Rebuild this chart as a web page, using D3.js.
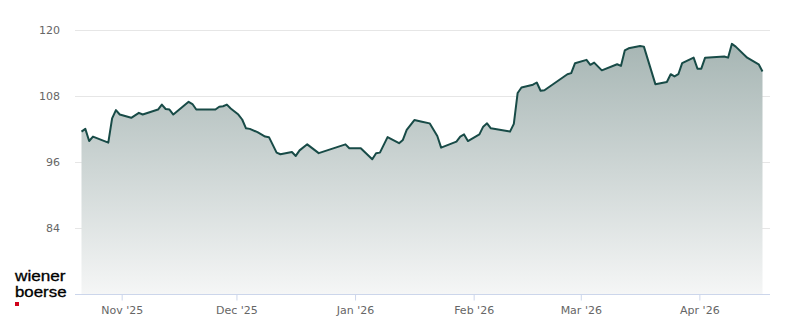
<!DOCTYPE html>
<html>
<head>
<meta charset="utf-8">
<script src="https://cdn.jsdelivr.net/npm/d3@7"></script>
<style>
  html, body { margin: 0; padding: 0; background: #fff; }
  svg { display: block; }
</style>
</head>
<body>
<div id="chart"></div>
<script>
// price series, one entry per vertex
const dates = [
  "2025-10-21", "2025-10-22", "2025-10-23", "2025-10-24", "2025-10-28", "2025-10-29", "2025-10-30", "2025-10-31",
  "2025-11-03", "2025-11-05", "2025-11-06", "2025-11-10", "2025-11-11", "2025-11-12", "2025-11-13", "2025-11-14",
  "2025-11-18", "2025-11-19", "2025-11-20", "2025-11-25", "2025-11-26", "2025-11-27", "2025-11-28", "2025-11-29",
  "2025-12-01", "2025-12-02", "2025-12-03", "2025-12-04", "2025-12-06", "2025-12-08", "2025-12-09", "2025-12-10",
  "2025-12-11", "2025-12-12", "2025-12-15", "2025-12-16", "2025-12-17", "2025-12-19", "2025-12-22", "2025-12-29",
  "2025-12-30", "2026-01-02", "2026-01-05", "2026-01-06", "2026-01-07", "2026-01-09", "2026-01-12", "2026-01-13",
  "2026-01-14", "2026-01-16", "2026-01-18", "2026-01-20", "2026-01-22", "2026-01-23", "2026-01-27", "2026-01-28",
  "2026-01-29", "2026-01-30", "2026-02-02", "2026-02-03", "2026-02-04", "2026-02-05", "2026-02-10", "2026-02-11",
  "2026-02-12", "2026-02-13", "2026-02-16", "2026-02-17", "2026-02-18", "2026-02-19", "2026-02-25", "2026-02-26",
  "2026-02-27", "2026-03-02", "2026-03-03", "2026-03-04", "2026-03-06", "2026-03-10", "2026-03-11", "2026-03-12",
  "2026-03-13", "2026-03-16", "2026-03-17", "2026-03-20", "2026-03-23", "2026-03-24", "2026-03-25", "2026-03-26",
  "2026-03-27", "2026-03-30", "2026-03-31", "2026-04-01", "2026-04-02", "2026-04-07", "2026-04-08", "2026-04-09",
  "2026-04-10", "2026-04-13", "2026-04-16", "2026-04-17"
];
const prices = [
  101.5, 102.0, 99.8, 100.6, 99.5, 103.9, 105.4, 104.6,
  104.0, 104.9, 104.6, 105.5, 106.4, 105.6, 105.5, 104.6,
  106.9, 106.5, 105.5, 105.5, 106.0, 106.1, 106.4, 105.7,
  104.6, 103.7, 102.1, 102.0, 101.4, 100.6, 100.5, 99.1,
  97.7, 97.4, 97.8, 97.1, 98.1, 99.2, 97.6, 99.2,
  98.5, 98.5, 96.5, 97.6, 97.7, 100.5, 99.4, 100.0,
  101.8, 103.6, 103.3, 103.0, 100.7, 98.6, 99.7, 100.6,
  101.0, 99.8, 101.0, 102.4, 103.0, 102.1, 101.5, 102.9,
  108.5, 109.5, 110.0, 110.4, 108.9, 109.0, 111.9, 112.1,
  113.9, 114.5, 113.6, 114.0, 112.6, 113.7, 113.4, 116.2,
  116.6, 117.0, 116.9, 110.1, 110.5, 111.9, 111.5, 111.9,
  113.9, 114.9, 112.9, 112.9, 114.9, 115.1, 114.9, 117.4,
  116.9, 114.9, 113.7, 112.4
];
const yTicks = [84, 96, 108, 120];
const yDomain = [72, 120];
const logoLines = ['wiener', 'boerse'];

const width = 800, height = 324;
const plot = { left: 81.5, right: 762.5, top: 29.5, bottom: 294.5 };
const gridLeft = 75, gridRight = 770;

// close prices are stamped at midday
const data = dates.map((d, i) => ({ date: new Date(d + "T12:00:00"), value: prices[i] }));

const svg = d3.select('#chart')
  .append('svg')
  .attr('width', width)
  .attr('height', height);

const x = d3.scaleTime()
  .domain(d3.extent(data, d => d.date))
  .range([plot.left, plot.right]);

const y = d3.scaleLinear()
  .domain(yDomain)
  .range([plot.bottom, plot.top]);

// gradient under the line
const grad = svg.append('defs').append('linearGradient')
  .attr('id', 'areaFill')
  .attr('gradientUnits', 'userSpaceOnUse')
  .attr('x1', 0).attr('x2', 0)
  .attr('y1', plot.top).attr('y2', plot.bottom);
grad.append('stop').attr('offset', '0%').attr('stop-color', '#a2b2b0');
grad.append('stop').attr('offset', '100%').attr('stop-color', '#f5f6f6');

// horizontal grid
svg.append('g')
  .selectAll('line')
  .data(yTicks)
  .enter().append('line')
  .attr('x1', gridLeft)
  .attr('x2', gridRight)
  .attr('y1', d => Math.round(y(d)) + 0.5)
  .attr('y2', d => Math.round(y(d)) + 0.5)
  .attr('stroke', '#e6e6e6')
  .attr('stroke-width', 1);

// y labels
svg.append('g')
  .selectAll('text')
  .data(yTicks)
  .enter().append('text')
  .attr('x', 60)
  .attr('y', d => y(d) + 4)
  .attr('text-anchor', 'end')
  .style('font-family', '"DejaVu Sans", sans-serif')
  .style('font-size', '11px')
  .style('fill', '#666666')
  .text(d => d);

const area = d3.area()
  .x(d => x(d.date))
  .y0(plot.bottom)
  .y1(d => y(d.value));

const line = d3.line()
  .x(d => x(d.date))
  .y(d => y(d.value));

svg.append('path')
  .datum(data)
  .attr('d', area)
  .attr('fill', 'url(#areaFill)');

svg.append('path')
  .datum(data)
  .attr('d', line)
  .attr('fill', 'none')
  .attr('stroke', '#184b47')
  .attr('stroke-width', 2)
  .attr('stroke-linejoin', 'round');

// x axis
const xAxis = d3.axisBottom(x)
  .ticks(d3.timeMonth.every(1))
  .tickFormat(d3.timeFormat("%b '%y"))
  .tickSizeOuter(0)
  .tickSizeInner(6)
  .tickPadding(6);

const gx = svg.append('g')
  .attr('transform', `translate(0,${plot.bottom})`)
  .call(xAxis);

gx.select('.domain').remove();
gx.insert('line', ':first-child')
  .attr('x1', gridLeft)
  .attr('x2', gridRight)
  .attr('stroke', '#ccd6eb');
gx.selectAll('.tick line').attr('stroke', '#ccd6eb');
gx.selectAll('.tick text')
  .style('font-family', '"DejaVu Sans", sans-serif')
  .style('font-size', '11px')
  .style('fill', '#666666');

// logo - two stacked words, stretched to the wordmark width
const logo = svg.append('g');
logo.selectAll('text')
  .data(logoLines)
  .enter().append('text')
  .attr('x', 15)
  .attr('y', (d, i) => 281 + i * 15.7)
  .attr('textLength', (d, i) => i === 0 ? 50.5 : 51.5)
  .attr('lengthAdjust', 'spacingAndGlyphs')
  .style('font-family', '"Liberation Sans", Arial, sans-serif')
  .style('font-size', '14px')
  .style('fill', '#000')
  .style('stroke', '#000')
  .style('stroke-width', 0.3)
  .text(d => d);
logo.append('rect')
  .attr('x', 15)
  .attr('y', 302)
  .attr('width', 4)
  .attr('height', 4)
  .attr('fill', '#d0021b');
</script>
</body>
</html>
